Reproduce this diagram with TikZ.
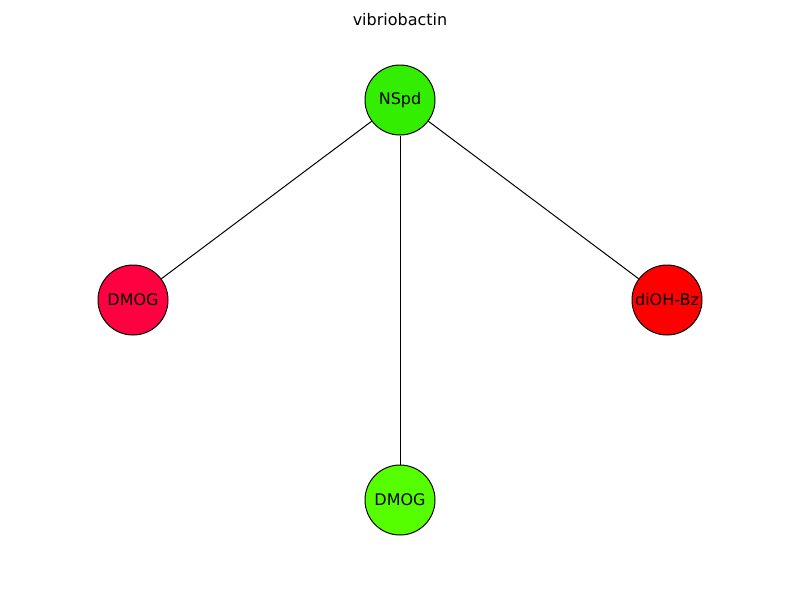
\documentclass[tikz,border=0pt]{standalone}
\usepackage{fontspec}
\setmainfont{DejaVu Sans}
\usetikzlibrary{positioning}
\definecolor{nspdgreen}{HTML}{33EE00}
\definecolor{dmogred}{HTML}{FF0040}
\definecolor{dmoggreen}{HTML}{55FF00}
\definecolor{diohred}{HTML}{FF0000}
\tikzset{
  mol/.style={circle, draw=black, line width=0.75pt, minimum size=52.5pt, inner sep=0pt, font=\fontsize{12}{14}\selectfont},
  bond/.style={draw=black, line width=0.75pt},
  plottitle/.style={font=\fontsize{12}{14}\selectfont}
}

\begin{document}
\begin{tikzpicture}[x=0.75pt, y=-0.75pt]
\useasboundingbox (0,0) rectangle (800,600);
\node[plottitle](title) at (400,20){vibriobactin};

\node[mol, fill=nspdgreen](nspd) at (400,100){NSpd};
\node[mol, fill=dmogred](dmogleft) at (133,300){DMOG};
\node[mol, fill=diohred](diohbz) at (667,300){diOH-Bz};
\node[mol, fill=dmoggreen](dmogbottom) at (400,500){DMOG};

\draw[bond] (nspd) -- (dmogleft);
\draw[bond] (nspd) -- (diohbz);
\draw[bond] (nspd) -- (dmogbottom);
\end{tikzpicture}
\end{document}
